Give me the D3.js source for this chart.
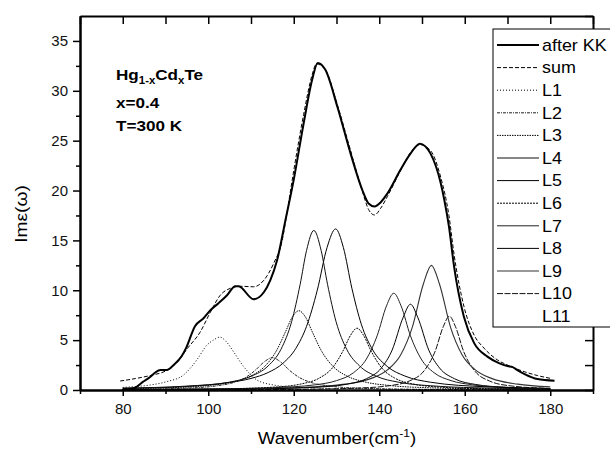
<!DOCTYPE html>
<html>
<head>
<meta charset="utf-8">
<script src="https://cdn.jsdelivr.net/npm/d3@7"></script>
<style>
  body { margin: 0; background: #fff; }
  svg { display: block; font-family: "Liberation Sans", Arial, sans-serif; }
  .axis path, .axis line { stroke: #000; }
  .axis path { stroke-width: 2; }
  .axis line { stroke-width: 1.5; }
  .axis text { font-size: 15px; fill: #111; }
</style>
</head>
<body>
<svg id="chart" width="610" height="451"></svg>
<script>
// values: [wavenumber, Im eps]
var afterKK = [[79.8,0],[82.5,0.17],[84.8,0.84],[86.4,1.3],[87.6,1.75],[88.8,2.0],[90.3,2.0],[91.9,2.5],[93.8,3.4],[94.8,4.2],
  [96.9,6.4],[98.9,7.2],[100.5,8.0],[102.4,8.7],[104.4,9.5],[106.3,10.4],[107.1,10.4],[110.6,9.1],[113,9.8],[114.5,11.0],
  [116.1,13.0],[118,16.9],[120,21.1],[122.3,26.7],[124.3,31.1],[125.6,32.8],[127.4,32.1],[130.2,28.4],[133.3,23.7],[136,20.1],
  [137.5,18.7],[138.9,18.4],[140.3,18.8],[141.9,19.7],[145,22.1],[147.3,23.7],[149.5,24.7],[152,23.7],[154.4,20.7],[155.2,19.1],
  [156.3,16.4],[157.5,12.4],[159.8,7.35],[162.2,4.7],[165.3,3.35],[168,2.7],[170,2.4],[171.2,2.3],[172.3,2.0],[174,1.6],
  [177,1.1],[181,0.93]];
var sum = [[79.4,0.9],[83,1.15],[86.4,1.45],[90.3,1.97],[93,2.9],[95,4.1],[98.1,5.8],[100.5,7.8],[102.8,9.5],[105.2,10.2],
  [107.5,10.4],[110.6,10.35],[113,11],[115.3,12.7],[117.3,15.0],[118.5,18.0],[120,22.0],[122.3,27.6],[124.3,31.6],[125.3,32.7],
  [127.4,32.1],[130.2,28.6],[133.3,24.0],[136,20.0],[137.5,18.1],[138.9,17.55],[140.3,18.2],[141.9,19.4],[145,22.0],[147.3,23.8],
  [149.5,24.6],[152,24.0],[154.4,21.3],[156.3,17.5],[157.5,13.6],[159.8,8.4],[162.2,5.5],[164.5,4.2],[167.7,3.0],[170,2.5],
  [173.9,1.84],[177,1.45],[180,1.17]];
var L1 = [[80,0.25],[82.5,0.33],[86.4,0.5],[90.3,0.84],[94.2,1.5],[97.3,3.0],[99.7,4.5],[101.2,5.0],[102.7,5.3],[104.2,4.85],
  [105.9,3.84],[108.3,2.34],[111.4,1.0],[115.3,0.5],[118.4,0.33],[125,0.2],[140,0.1],[160,0.05],[180,0.03]];
var L2 = [[80,0.06],[95,0.19],[102,0.42],[106,0.76],[109,1.33],[111,1.98],[113,2.79],[115,3.24],[117,2.79],[119,1.98],
  [121,1.33],[124,0.76],[128,0.42],[135,0.19],[150,0.06],[180,0.02]];
var L3 = [[80,0.12],[90,0.21],[100,0.45],[106,0.83],[110,1.41],[113,2.28],[116,3.98],[118,5.77],[119.7,7.34],[121.2,7.95],
  [122.7,7.34],[124.4,5.77],[126.4,3.98],[129.4,2.28],[132.4,1.41],[136.4,0.83],[142.4,0.45],[152,0.22],[165,0.11],[180,0.06]];
var L4 = [[80,0.16],[95,0.36],[105,0.79],[110,1.37],[114,2.41],[117,4.07],[119.5,6.85],[121.5,10.6],[123,14.0],[124.7,16.0],
  [126.4,14.0],[127.9,10.6],[129.9,6.85],[132.4,4.07],[135.4,2.41],[139.4,1.37],[144.4,0.79],[154.4,0.36],[165,0.2],[180,0.11]];
var L5 = [[80,0.19],[95,0.39],[105,0.76],[110,1.16],[114,1.75],[117.5,2.69],[120.5,4.18],[123,6.39],[125.5,10.0],[127.8,14.3],
  [129.8,16.15],[131.6,14.3],[133.6,10.2],[135.8,6.6],[138.5,4.0],[142,2.32],[146,1.4],[152,0.78],[165,0.32],[180,0.16]];
var L6 = [[80,0.04],[100,0.09],[115,0.28],[122,0.63],[126,1.2],[129,2.2],[131.5,3.9],[133.3,5.5],[134.8,6.2],[136.3,5.5],
  [138.1,3.9],[140.6,2.2],[143.6,1.2],[147.6,0.63],[154.6,0.28],[165,0.12],[180,0.06]];
var L7 = [[80,0.05],[100,0.1],[115,0.23],[125,0.52],[130,0.94],[134,1.74],[137,3.11],[139.5,5.43],[141.7,8.44],[143.4,9.7],
  [145.1,8.44],[147.3,5.43],[149.8,3.11],[152.8,1.74],[156.8,0.94],[161.8,0.52],[170,0.26],[180,0.14]];
var L8 = [[80,0.03],[100,0.06],[115,0.13],[125,0.27],[132,0.55],[137,1.13],[140.5,2.21],[143,3.99],[145.6,7.29],[147.3,8.6],
  [149,7.29],[151.6,3.99],[154.1,2.21],[157.6,1.13],[162.6,0.55],[169.6,0.27],[180,0.13]];
var L9 = [[80,0.05],[100,0.09],[115,0.18],[125,0.33],[132,0.59],[138,1.14],[142,2.04],[145,3.51],[147.7,6.25],[150.3,10.6],
  [152.2,12.5],[154.1,10.6],[156.7,6.25],[159.4,3.51],[162.4,2.04],[166.4,1.14],[172.4,0.59],[180,0.32]];
var L10 = [[80,0.02],[110,0.04],[125,0.09],[135,0.19],[142,0.41],[147,0.9],[150.5,1.93],[153,3.8],[155,6.38],[156.4,7.4],
  [157.8,6.38],[159.8,3.8],[162.3,1.93],[165.8,0.9],[170.8,0.41],[180,0.16]];
var L11 = [];

var xTicks = [80, 100, 120, 140, 160, 180];
var yTicks = [0, 5, 10, 15, 20, 25, 30, 35];

// name, data, stroke, width, dash
var series = [
  ["after KK", afterKK, "#000", 2, null],
  ["sum", sum, "#000", 1, "4,2"],
  ["L1", L1, "#000", 1, "1,2"],
  ["L2", L2, "#222", 1, "3,1,1,1"],
  ["L3", L3, "#000", 1, "1.5,1"],
  ["L4", L4, "#111", 1, null],
  ["L5", L5, "#000", 1, null],
  ["L6", L6, "#000", 1, "2,1"],
  ["L7", L7, "#222", 1, null],
  ["L8", L8, "#000", 1, null],
  ["L9", L9, "#333", 1.1, null],
  ["L10", L10, "#111", 1, "6,1.5"],
  ["L11", L11, "none", 1, null]
];

var svg = d3.select("#chart");
var x = d3.scaleLinear().domain([70, 190]).range([80, 593]);
var y = d3.scaleLinear().domain([0, 37.5]).range([390, 16]);

var line = d3.line()
    .x(function(d) { return x(d[0]); })
    .y(function(d) { return y(d[1]); })
    .curve(d3.curveMonotoneX);

// curves, components first so the two totals sit on top
var plot = svg.append("g");
series.slice().reverse().forEach(function(s) {
    if (!s[1].length) return;
    plot.append("path")
        .attr("d", line(s[1]))
        .attr("fill", "none")
        .attr("stroke", s[2])
        .attr("stroke-width", s[3])
        .attr("stroke-dasharray", s[4]);
});

// axes
svg.append("g").attr("class", "axis")
    .attr("transform", "translate(0,390)")
    .call(d3.axisBottom(x).tickValues(xTicks).tickSize(6).tickSizeOuter(0).tickPadding(7).tickFormat(d3.format("d")));
svg.append("g").attr("class", "axis")
    .attr("transform", "translate(0,390)")
    .call(d3.axisBottom(x).tickValues(d3.range(70, 191, 20)).tickSize(4).tickSizeOuter(0).tickFormat(""));
svg.append("g").attr("class", "axis")
    .attr("transform", "translate(0,16)")
    .call(d3.axisTop(x).tickValues(d3.range(70, 191, 10)).tickSize(-8).tickSizeOuter(0).tickFormat(""));
svg.append("g").attr("class", "axis")
    .attr("transform", "translate(80,0)")
    .call(d3.axisLeft(y).tickValues(yTicks).tickSize(7).tickSizeOuter(0).tickPadding(5).tickFormat(d3.format("d")));
svg.append("g").attr("class", "axis")
    .attr("transform", "translate(80,0)")
    .call(d3.axisLeft(y).tickValues(d3.range(2.5, 37.5, 5)).tickSize(4).tickSizeOuter(0).tickFormat(""));
svg.append("g").attr("class", "axis")
    .attr("transform", "translate(593,0)")
    .call(d3.axisRight(y).tickValues(d3.range(0, 37.6, 2.5)).tickSize(-8).tickSizeOuter(0).tickFormat(""));

// axis titles (the original lettering is a little wider than Arial)
var xt = svg.append("text")
    .attr("transform", "translate(337,444) scale(1.1,1)")
    .attr("text-anchor", "middle")
    .style("font-size", "17px");
xt.append("tspan").text("Wavenumber(cm");
xt.append("tspan").attr("dy", -7).style("font-size", "11px").text("-1");
xt.append("tspan").attr("dy", 7).text(")");

svg.append("text")
    .attr("transform", "translate(27,214) rotate(-90) scale(1.2,1)")
    .attr("text-anchor", "middle")
    .style("font-size", "16px")
    .text("Imε(ω)");

// sample label
var note = svg.append("g").style("font-weight", "bold").style("font-size", "15px");
var hg = note.append("text").attr("transform", "translate(116,80) scale(1.14,1)");
hg.append("tspan").text("Hg");
hg.append("tspan").attr("dy", 4).style("font-size", "10px").text("1-x");
hg.append("tspan").attr("dy", -4).text("Cd");
hg.append("tspan").attr("dy", 4).style("font-size", "10px").text("x");
hg.append("tspan").attr("dy", -4).text("Te");
note.append("text").attr("transform", "translate(116,108) scale(1.14,1)").text("x=0.4");
note.append("text").attr("transform", "translate(116,131) scale(1.14,1)").text("T=300 K");

// legend
var legend = svg.append("g");
legend.append("rect")
    .attr("x", 493).attr("y", 29).attr("width", 140).attr("height", 298)
    .attr("fill", "#fff").attr("stroke", "#000").attr("stroke-width", 1);
series.forEach(function(s, i) {
    var ly = 45 + i * 22.6;
    if (s[1].length) {
        legend.append("line")
            .attr("x1", 497).attr("x2", 539).attr("y1", ly).attr("y2", ly)
            .attr("stroke", s[2]).attr("stroke-width", s[3])
            .attr("stroke-dasharray", s[4]);
    }
    legend.append("text")
        .attr("transform", "translate(542," + ly + ") scale(1.12,1)")
        .attr("dy", "0.36em")
        .style("font-size", "16px")
        .text(s[0]);
});
</script>
</body>
</html>
